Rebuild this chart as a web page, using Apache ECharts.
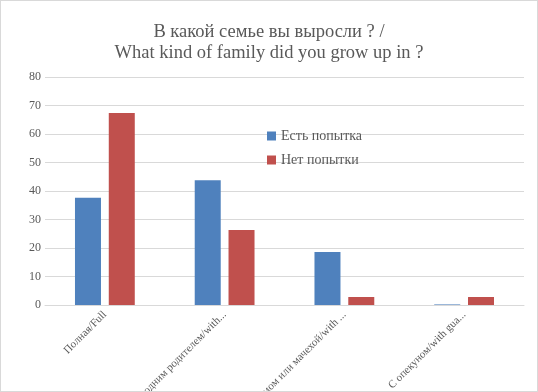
<!DOCTYPE html>
<html><head><meta charset="utf-8">
<script src="https://cdn.jsdelivr.net/npm/echarts@6/dist/echarts.min.js"></script>
<style>
html,body{margin:0;padding:0;background:#fff;}
#c{position:absolute;left:0;top:0;width:536px;height:390px;border:1px solid #d9d9d9;}
</style></head>
<body><div id="c"></div>
<script>
const titleLines = ['В какой семье вы выросли ? /', 'What kind of family did you grow up in ?'];
const categories = ['Полная/Full', 'С одним родителем/with...', 'С отчимом или мачехой/with ...', 'С опекуном/with gua...'];
const seriesNames = ['Есть попытка', 'Нет попытки'];
const seriesYes = [37.6, 43.8, 18.6, 0.2];
const seriesNo = [67.4, 26.3, 2.8, 2.8];
const yTicks = [0, 10, 20, 30, 40, 50, 60, 70, 80];

const chart = echarts.init(document.getElementById('c'));
const font = 'Liberation Serif, Times New Roman, serif';
chart.setOption({
  animation: false,
  textStyle: { fontFamily: font },
  title: {
    text: titleLines.join('\n'),
    left: 'center', top: 16,
    textStyle: { fontFamily: font, fontSize: 18.5, fontWeight: 'normal', color: '#595959', lineHeight: 21 }
  },
  legend: {
    orient: 'vertical', left: 261, top: 123,
    itemWidth: 9, itemHeight: 9, itemGap: 10,
    icon: 'rect',
    textStyle: { fontFamily: font, fontSize: 14, color: '#595959' },
    data: seriesNames
  },
  grid: { left: 44, right: 13, top: 76, bottom: 86, containLabel: false, outerBoundsMode: 'none' },
  xAxis: {
    type: 'category', data: categories,
    axisLine: { lineStyle: { color: '#d9d9d9' } },
    axisTick: { show: false },
    axisLabel: { rotate: 45, interval: 0, fontFamily: font, fontSize: 11, color: '#595959', margin: 8 }
  },
  yAxis: {
    type: 'value', min: yTicks[0], max: yTicks[yTicks.length - 1], interval: 10,
    axisLine: { show: false }, axisTick: { show: false },
    splitLine: { lineStyle: { color: '#d9d9d9' } },
    axisLabel: { fontFamily: font, fontSize: 12, color: '#595959', margin: 4 }
  },
  series: [
    { name: seriesNames[0], type: 'bar', data: seriesYes, barWidth: 26, barGap: '30%', itemStyle: { color: '#4f81bd' } },
    { name: seriesNames[1], type: 'bar', data: seriesNo, barWidth: 26, itemStyle: { color: '#c0504d' } }
  ]
});
</script></body></html>
